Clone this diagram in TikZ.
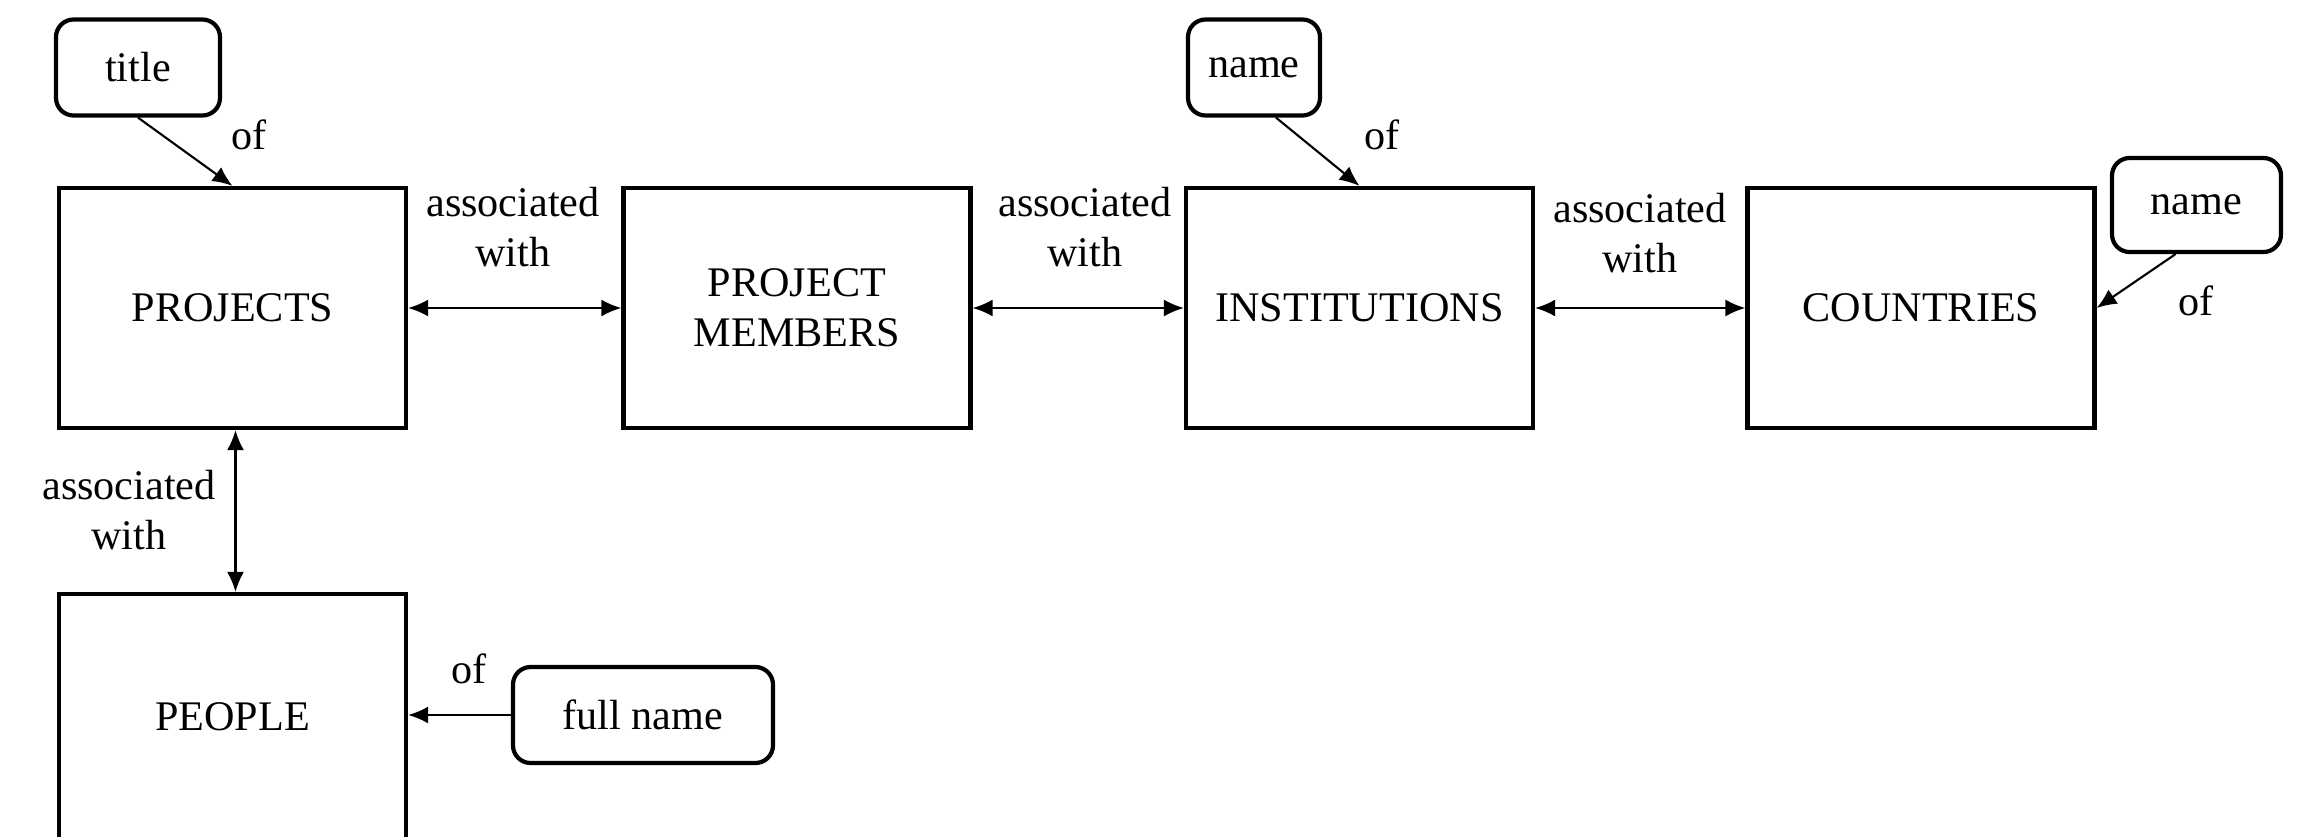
\documentclass[tikz,border=0pt]{standalone}
\usepackage{fontspec}
\setmainfont{Liberation Serif}
\usepackage{tikz}
\usetikzlibrary{positioning,
                calc,
                arrows.meta}

\begin{document}
\begin{tikzpicture}[x=1cm,y=1cm]

\tikzset{
entity/.style={
draw=black,
line width=1.2pt,
minimum width=3.47cm,
minimum height=2.40cm,
font=\fontsize{12}{14.2}\selectfont
},
attrib/.style={
draw=black,
line width=1.2pt,
rounded corners=5pt,
minimum height=0.96cm,
font=\fontsize{12}{14.2}\selectfont
},
rellabel/.style={
align=center,
inner sep=0pt,
font=\fontsize{12}{14.2}\selectfont
},
link/.style={
line width=0.6pt,
-{Latex[length=2mm,width=1.7mm]}
},
biglink/.style={
line width=0.6pt,
{Latex[length=2mm,width=1.7mm]}-{Latex[length=2mm,width=1.7mm]}
}
}

\useasboundingbox (0,0) rectangle (23,8.36);

%----------------------------------
% ENTITIES
%----------------------------------

\node[entity] (projects) at (2.325,5.28) {PROJECTS};
\node[entity,align=center] (members) at (7.97,5.28) {PROJECT\\MEMBERS};
\node[entity] (institutions) at (13.595,5.28) {INSTITUTIONS};
\node[entity] (countries) at (19.21,5.28) {COUNTRIES};
\node[entity,minimum height=2.46cm] (people) at (2.325,1.19) {PEOPLE};

%----------------------------------
% ATTRIBUTES
%----------------------------------

\node[attrib,minimum width=1.64cm] (title) at (1.38,7.685) {title};
\node[attrib,minimum width=1.32cm] (instname) at (12.54,7.685) {name};
\node[attrib,minimum width=1.69cm,minimum height=0.94cm] (countryname) at (21.965,6.31) {name};
\node[attrib,minimum width=2.60cm] (fullname) at (6.43,1.21) {full name};

%----------------------------------
% RELATIONS
%----------------------------------

\draw[biglink] (projects.east) -- (members.west);
\draw[biglink] (members.east) -- (institutions.west);
\draw[biglink] (institutions.east) -- (countries.west);
\draw[biglink] ([xshift=0.03cm]projects.south) -- ([xshift=0.03cm]people.north);

\node[rellabel] (assoc1) at (5.13,6.09) {associated\\with};
\node[rellabel] (assoc2) at (10.85,6.09) {associated\\with};
\node[rellabel] (assoc3) at (16.40,6.03) {associated\\with};
\node[rellabel] (assoc4) at (1.29,3.26) {associated\\with};

%----------------------------------
% ATTRIBUTE LINKS
%----------------------------------

\draw[link] (title.south) -- (projects.north);
\draw[link] ([xshift=0.22cm]instname.south) -- (institutions.north);
\draw[link] ([xshift=-0.21cm]countryname.south) -- (countries.east);
\draw[link] (fullname.west) -- (people.east |- fullname.west);

\node[rellabel] (of1) at (2.49,7.01) {of};
\node[rellabel] (of2) at (13.82,7.01) {of};
\node[rellabel] (of3) at (21.96,5.35) {of};
\node[rellabel] (of4) at (4.69,1.67) {of};

\end{tikzpicture}
\end{document}
